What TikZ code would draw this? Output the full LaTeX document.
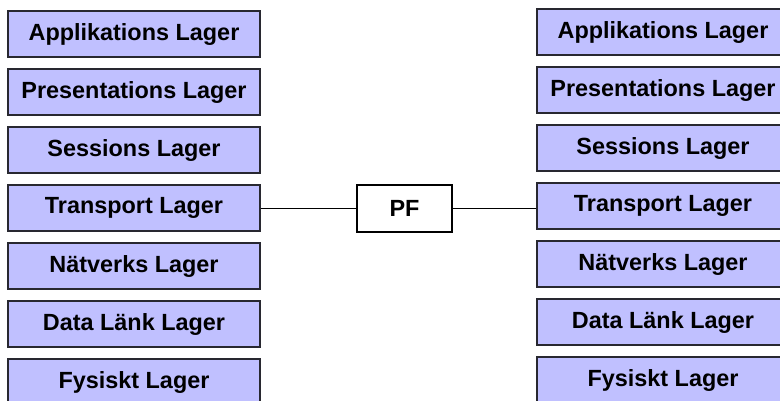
\documentclass[tikz,border=0pt]{standalone}
\usepackage{fontspec}
\setmainfont{Liberation Sans}
\definecolor{layerfill}{RGB}{192,192,255}
\definecolor{layerline}{RGB}{40,40,48}
\begin{document}
\begin{tikzpicture}[x=1bp,y=-1bp,
  layer/.style={draw=layerline, fill=layerfill, line width=1.2bp,
    minimum width=252bp, minimum height=46bp, inner sep=0pt,
    font=\fontsize{23.5}{26}\selectfont\bfseries},
  relay/.style={draw=black, fill=white, line width=1.2bp,
    minimum width=95bp, minimum height=47bp, inner sep=0pt,
    font=\fontsize{23.5}{26}\selectfont\bfseries},
  link/.style={draw=black, line width=1.2bp}]
\useasboundingbox (0,0) rectangle (780,400);
\clip (0,0) rectangle (780,400);
\fill[white] (0,0) rectangle (780,400);

% left protocol stack
\foreach \name/\txt [count=\i from 0] in {
  la/Applikations Lager, lb/Presentations Lager, lc/Sessions Lager,
  ld/Transport Lager, le/Nätverks Lager, lf/Data Länk Lager, lg/Fysiskt Lager}
  \node[layer] (\name) at (134, 34+58*\i) {\txt};

% right protocol stack
\foreach \name/\txt [count=\i from 0] in {
  ra/Applikations Lager, rb/Presentations Lager, rc/Sessions Lager,
  rd/Transport Lager, re/Nätverks Lager, rf/Data Länk Lager, rg/Fysiskt Lager}
  \node[layer] (\name) at (663, 32+58*\i) {\txt};

% relay between the transport layers
\node[relay] (pf) at (404.5, 208.5) {PF};

\draw[link] (ld.east |- pf.west) -- (pf.west);
\draw[link] (pf.east) -- (rd.west |- pf.east);
\end{tikzpicture}
\end{document}
